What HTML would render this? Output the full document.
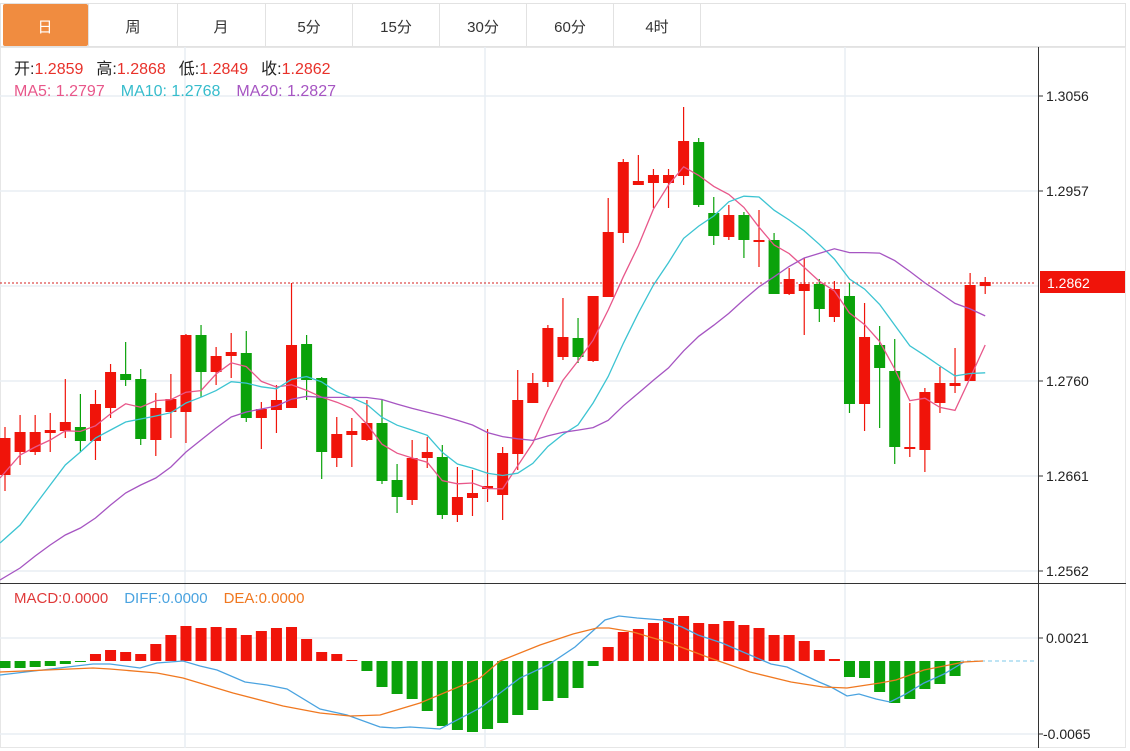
<!DOCTYPE html>
<html><head><meta charset="utf-8">
<style>
html,body{margin:0;padding:0;background:#fff;width:1130px;height:751px;overflow:hidden;font-family:"Liberation Sans","Noto Sans CJK SC",sans-serif}
</style></head><body>
<svg id="s" width="1130" height="751" xmlns="http://www.w3.org/2000/svg" style="position:absolute;left:0;top:0;font-family:'Liberation Sans','Noto Sans CJK SC',sans-serif">
<rect x="0" y="0" width="1130" height="751" fill="#fff"/>
<rect x="0.5" y="3.5" width="1125" height="43" fill="#fff" stroke="#e2e2e2"/>
<rect x="3" y="4" width="85" height="42" rx="2" fill="#f08c40"/>
<g stroke="#e2e2e2"><line x1="88.5" y1="4" x2="88.5" y2="47"/><line x1="177.5" y1="4" x2="177.5" y2="47"/><line x1="265.5" y1="4" x2="265.5" y2="47"/><line x1="352.5" y1="4" x2="352.5" y2="47"/><line x1="439.5" y1="4" x2="439.5" y2="47"/><line x1="526.5" y1="4" x2="526.5" y2="47"/><line x1="613.5" y1="4" x2="613.5" y2="47"/><line x1="700.5" y1="4" x2="700.5" y2="47"/></g>
<g font-size="15" text-anchor="middle" fill="#333"><text x="45" y="32" fill="#fff">日</text><text x="133" y="32">周</text><text x="221" y="32">月</text><text x="309" y="32">5分</text><text x="396" y="32">15分</text><text x="483" y="32">30分</text><text x="570" y="32">60分</text><text x="657" y="32">4时</text></g>
<rect x="0.5" y="47.5" width="1125" height="700" fill="none" stroke="#e6e6e6"/>
<g stroke="#e8eef3" stroke-width="1.5">
<line x1="0" y1="96" x2="1038" y2="96"/><line x1="0" y1="191" x2="1038" y2="191"/><line x1="0" y1="286" x2="1038" y2="286"/><line x1="0" y1="381" x2="1038" y2="381"/><line x1="0" y1="476" x2="1038" y2="476"/><line x1="0" y1="571" x2="1038" y2="571"/>
<line x1="0" y1="638" x2="1038" y2="638"/><line x1="0" y1="734" x2="1038" y2="734"/>
<line x1="185" y1="47" x2="185" y2="748"/><line x1="485" y1="47" x2="485" y2="748"/><line x1="845" y1="47" x2="845" y2="748"/>
</g>
<line x1="0" y1="583.5" x2="1126" y2="583.5" stroke="#333"/>
<line x1="1038.5" y1="47" x2="1038.5" y2="748" stroke="#333"/>
<g font-size="14" fill="#222">
<line x1="1038" y1="96" x2="1043" y2="96" stroke="#333"/><text x="1046" y="101">1.3056</text>
<line x1="1038" y1="191" x2="1043" y2="191" stroke="#333"/><text x="1046" y="196">1.2957</text>
<line x1="1038" y1="381" x2="1043" y2="381" stroke="#333"/><text x="1046" y="386">1.2760</text>
<line x1="1038" y1="476" x2="1043" y2="476" stroke="#333"/><text x="1046" y="481">1.2661</text>
<line x1="1038" y1="571" x2="1043" y2="571" stroke="#333"/><text x="1046" y="576">1.2562</text>
<line x1="1038" y1="638" x2="1043" y2="638" stroke="#333"/><text x="1046" y="643">0.0021</text>
<line x1="1038" y1="734" x2="1043" y2="734" stroke="#333"/><text x="1043" y="739">-0.0065</text>
</g>
<rect x="1040" y="271" width="85" height="22" fill="#f0140a"/>
<text x="1047" y="288" font-size="14" fill="#fff">1.2862</text>
<line x1="0" y1="283" x2="1036" y2="283" stroke="#d42020" stroke-dasharray="2,2"/>
<line x1="960" y1="661" x2="1036" y2="661" stroke="#7cc8e8" stroke-dasharray="4,3"/>
<g font-size="16">
<text x="14" y="74"><tspan fill="#222">开:</tspan><tspan fill="#e8312a">1.2859</tspan><tspan fill="#222" dx="13">高:</tspan><tspan fill="#e8312a">1.2868</tspan><tspan fill="#222" dx="13">低:</tspan><tspan fill="#e8312a">1.2849</tspan><tspan fill="#222" dx="13">收:</tspan><tspan fill="#e8312a">1.2862</tspan></text>
<text x="14" y="96"><tspan fill="#e8578a">MA5: 1.2797</tspan><tspan fill="#36bccc" dx="16">MA10: 1.2768</tspan><tspan fill="#a655c2" dx="16">MA20: 1.2827</tspan></text>
<text x="14" y="603" font-size="15"><tspan fill="#e03a3a">MACD:0.0000</tspan><tspan fill="#4aa3e0" dx="16">DIFF:0.0000</tspan><tspan fill="#f07820" dx="16">DEA:0.0000</tspan></text>
</g>
<g id="g"></g>
</svg>
<script>
(function(){
var D=[[475,438,427,491],[452,432,415,465],[452,432,415,455],[433,430,413,452],[431,422,379,438],[427,441,394,452],[441,404,390,460],[408,372,364,418],[374,380,342,386],[379,439,369,445],[440,408,393,456],[412,399,374,438],[412,335,334,443],[335,372,325,397],[372,356,347,385],[356,352,333,378],[353,418,331,422],[418,409,402,449],[410,400,385,433],[408,345,283,408],[344,380,335,400],[378,452,377,479],[458,434,417,467],[435,431,418,467],[440,423,400,441],[423,481,400,484],[480,497,464,513],[500,458,440,505],[458,452,437,468],[457,515,445,519],[515,497,467,522],[498,493,470,516],[489,486,429,502],[495,453,447,520],[454,400,370,470],[403,383,373,403],[382,328,325,387],[357,337,298,360],[338,357,318,363],[361,296,296,362],[297,232,198,297],[233,162,159,243],[185,181,155,185],[183,175,169,208],[183,175,169,208],[176,141,107,185],[142,205,138,207],[213,236,197,245],[237,215,205,240],[215,240,212,258],[242,240,210,267],[240,294,233,294],[294,279,268,295],[291,284,258,335],[284,309,279,322],[317,289,281,322],[296,404,283,413],[404,337,303,431],[345,368,326,428],[371,447,339,464],[448,447,403,457],[450,392,388,472],[403,383,367,413],[386,383,348,393],[381,285,273,381],[286,282,277,294]];
var H=[668,668,667,666,664,662,654,650,652,654,644,635,626,628,627,628,635,631,628,627,639,652,654,660,671,687,694,699,711,726,730,732,729,723,715,710,701,698,688,666,647,632,629,623,618,616,623,624,621,625,628,635,635,641,650,659,677,678,692,703,699,689,684,676,661,661];
var m5e=[478,455,447,440],m10e=[543,525,505,485,465,452,438,430,422],m20e=[580,568,556,545,535,528,518,505,493,485,478,467,452,440,428,417,412,409,406];
function X(i){return 5+i*15.08}
var R='#f0140a',G='#0aa20a',s='';
for(var i=0;i<D.length;i++){var d=D[i],x=X(i),up=d[1]<=d[0],c=up?R:G,t=Math.min(d[0],d[1]),b=Math.max(d[0],d[1]);
s+='<line x1="'+x+'" y1="'+d[2]+'" x2="'+x+'" y2="'+d[3]+'" stroke="'+c+'" stroke-width="1.2"/>';
s+='<rect x="'+(x-5.5)+'" y="'+t+'" width="11" height="'+Math.max(b-t,2)+'" fill="'+c+'"/>';
var h=H[i];if(h!=661){var by=Math.min(h,661),hh=Math.abs(h-661);s+='<rect x="'+(x-5.5)+'" y="'+by+'" width="11" height="'+Math.max(hh,1)+'" fill="'+(h<661?R:G)+'"/>';}}
function ma(n,e){var p=[];for(var i=0;i<D.length;i++){var v;if(i<n-1)v=e[i];else{v=0;for(var j=i-n+1;j<=i;j++)v+=D[j][1];v/=n;}p.push((i==0?0:X(i)).toFixed(1)+','+v.toFixed(1));}return p.join(' ');}
s+='<polyline fill="none" stroke="#e8578a" stroke-width="1.3" points="'+ma(5,m5e)+'"/>';
s+='<polyline fill="none" stroke="#3cc4d2" stroke-width="1.3" points="'+ma(10,m10e)+'"/>';
s+='<polyline fill="none" stroke="#a655c2" stroke-width="1.3" points="'+ma(20,m20e)+'"/>';
s+='<polyline fill="none" stroke="#4aa3e0" stroke-width="1.3" points="0,675 93,664 110,664 140,668 157,663 183,661 200,666 217,670 245,682 267,685 287,689 320,709 347,715 380,727 395,728 410,727 440,729 480,708 500,693 520,678 548,665 575,647 605,620 619,616 637,618 662,620 682,627 698,635 722,643 750,655 771,664 787,667 819,682 831,687 847,696 859,694 876,699 890,702 904,695 924,683 944,674 964,662"/>';
s+='<polyline fill="none" stroke="#f07820" stroke-width="1.3" points="0,672 93,668 110,669 157,673 183,678 233,693 283,706 320,713 350,716 380,715 420,703 480,678 500,661 540,645 573,634 597,628 609,628 633,632 670,643 710,658 750,672 791,682 823,687 847,688 880,683 896,680 924,670 964,662 983,661"/>';
document.getElementById('g').innerHTML=s;
})();
</script>
</body></html>
